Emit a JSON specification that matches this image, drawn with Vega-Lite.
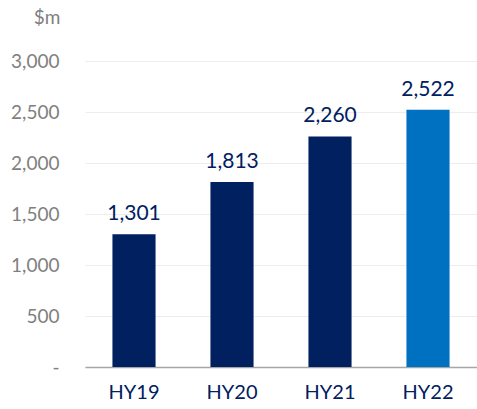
{
  "$schema": "https://vega.github.io/schema/vega-lite/v6.json",
  "width": 392,
  "height": 306,
  "autosize": {"type": "none"},
  "padding": {"left": 85, "top": 61, "right": 0, "bottom": 42},
  "background": "white",
  "config": {"view": {"stroke": null}, "font": "Lato"},
  "data": {"values": [
    {"period": "HY19", "value": 1301},
    {"period": "HY20", "value": 1813},
    {"period": "HY21", "value": 2260},
    {"period": "HY22", "value": 2522}
  ]},
  "encoding": {
    "x": {"field": "period", "type": "nominal", "sort": null,
      "scale": {"paddingInner": 0.56, "paddingOuter": 0.28},
      "axis": {"title": null, "labelAngle": 0, "ticks": false, "domainColor": "#A6A6A6", "domainWidth": 1.5,
        "labelColor": "#002060", "labelFontSize": 20, "labelPadding": 15, "labelFont": "Lato"}},
    "y": {"field": "value", "type": "quantitative",
      "scale": {"domain": [0, 3000]},
      "axis": {"values": [0, 500, 1000, 1500, 2000, 2500, 3000], "title": "$m", "titleAngle": 0,
        "titleAlign": "right", "titleBaseline": "middle", "titleX": -25, "titleY": -44,
        "titleColor": "#7F7F7F", "titleFontSize": 19, "titleFontWeight": "normal", "titleFont": "Lato",
        "labelExpr": "datum.value == 0 ? '-' : format(datum.value, ',')",
        "labelColor": "#7F7F7F", "labelFontSize": 19, "labelFont": "Lato", "labelPadding": 26, "ticks": false, "domain": false,
        "gridColor": "#EDEDED", "gridWidth": 1}}
  },
  "layer": [
    {"mark": {"type": "bar"},
     "encoding": {"color": {"condition": {"test": "datum.period == 'HY22'", "value": "#0070C0"}, "value": "#002060"}}},
    {"mark": {"type": "text", "baseline": "alphabetic", "dy": -14, "fontSize": 21, "color": "#002060", "font": "Lato"},
     "encoding": {"text": {"field": "value", "type": "quantitative", "format": ","}}}
  ]
}
